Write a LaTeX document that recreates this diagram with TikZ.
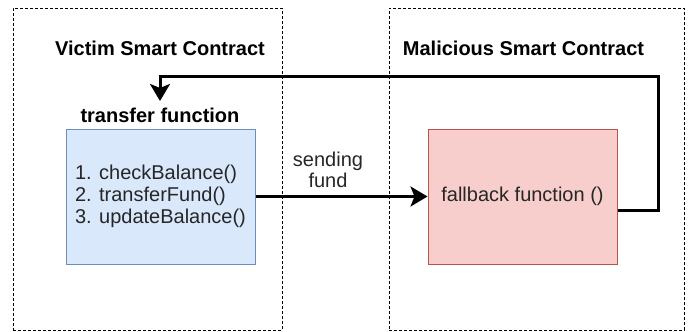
\documentclass[tikz,border=0pt]{standalone}
\usepackage{fontspec}
\setmainfont{Liberation Sans}
\usetikzlibrary{arrows.meta, positioning}
\definecolor{victimFill}{HTML}{DAE8FC}
\definecolor{victimLine}{HTML}{6C8EBF}
\definecolor{attackFill}{HTML}{F8CECC}
\definecolor{attackLine}{HTML}{B85450}

\begin{document}
\begin{tikzpicture}[
    x=1pt, y=-1pt,
    >={Stealth[length=17pt, width=20pt, inset=4pt]},
    contract box/.style={draw, dash pattern=on 3pt off 2pt,
        line width=0.9pt, minimum height=322pt},
    func box/.style={minimum width=189pt, minimum height=135pt,
        line width=1pt, font=\fontsize{20}{22}\selectfont, text=black!85},
    title text/.style={font=\fontsize{20}{24}\selectfont\bfseries},
    plain text/.style={font=\fontsize{20}{21}\selectfont, text=black!85},
    flow line/.style={line width=3pt, ->},
]

% ---- canvas ----
\useasboundingbox (0,0) rectangle (691,332);

% ---- layout parameters ----
\def\yBox{196.5}    % centre of the function boxes
\def\yTitle{48}     % contract titles
\def\yLoop{76}      % top run of the re-entry arrow
\def\xLoop{658}     % right run of the re-entry arrow

% ---- contracts (dashed frames) ----
\node[contract box, minimum width=269pt] (victim) at (147.5,169) {};
\node[contract box, minimum width=295pt] (attacker) at (536.5,169) {};

\node[title text] (victimtitle) at (160,\yTitle) {Victim Smart Contract};
\node[title text] (attackertitle) at (523.5,\yTitle) {Malicious Smart Contract};

% ======== victim side ========
\node[func box, fill=victimFill, draw=victimLine, align=left]
    (transfer) at (160.5,\yBox)
    {1. checkBalance()\\2. transferFund()\\3. updateBalance()};
\node[title text] (transferlabel) at (160,115) {transfer function};

% ======== malicious side ========
\node[func box, fill=attackFill, draw=attackLine]
    (fallback) at (522.5,\yBox) {fallback function ()};

% ---- sending fund ----
\draw[flow line] (transfer.east) -- (fallback.west);
\node[plain text, align=center] (sendlabel) at (328,170) {sending\\fund};

% ---- re-entry: fallback calls transfer again ----
\coordinate (loopend) at (160,101);
\draw[flow line] ([yshift=-14pt]fallback.east) -| (\xLoop,\yLoop) -| (loopend);

\end{tikzpicture}
\end{document}
